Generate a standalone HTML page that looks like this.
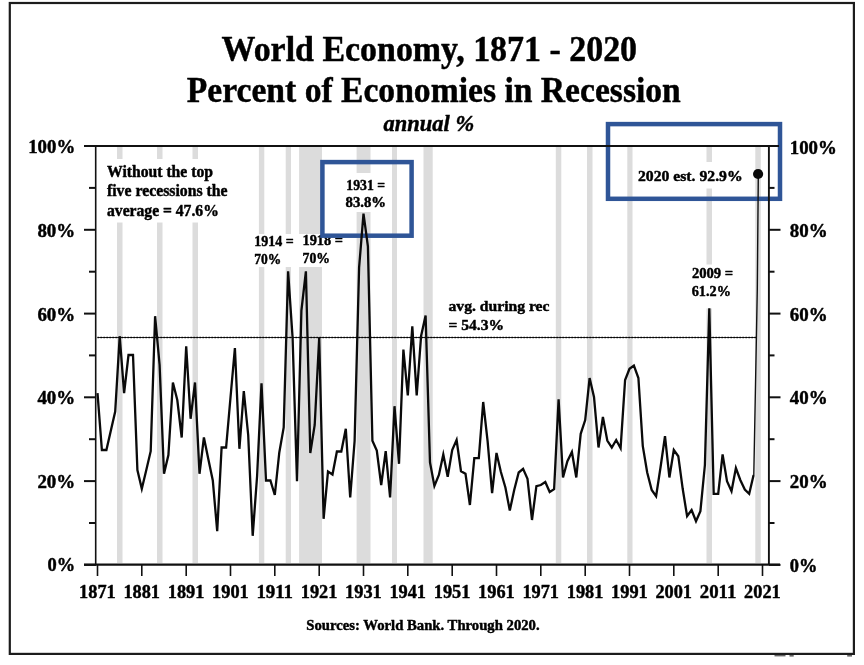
<!DOCTYPE html>
<html lang="en"><head><meta charset="utf-8"><title>World Economy, 1871 - 2020: Percent of Economies in Recession</title>
<style>
html,body{margin:0;padding:0;background:#fff}
svg{display:block}
text{font-family:"Liberation Serif","DejaVu Serif",serif;font-weight:bold;fill:#000;stroke:#000;stroke-width:.45px;stroke-linejoin:round}
</style></head><body>
<svg width="864" height="665" viewBox="0 0 864 665">
<rect width="864" height="665" fill="#fff"/>
<rect x="9.8" y="3" width="844.1" height="650.9" fill="none" stroke="#1c1c1c" stroke-width="2.2"/>
<g fill="#666"><rect x="774.5" y="655" width="11" height="1.4"/><rect x="789.5" y="655" width="4.2" height="1.6"/><rect x="847.2" y="655" width="4.8" height="1.6"/></g>
<g font-size="36" style="stroke-width:.6px">
<text x="221.6" y="61.3" textLength="415.5" lengthAdjust="spacingAndGlyphs">World Economy, 1871 - 2020</text>
<text x="186.8" y="101.9" textLength="494" lengthAdjust="spacingAndGlyphs">Percent of Economies in Recession</text>
</g>
<text x="383.6" y="131.4" font-size="23" font-style="italic" textLength="90.6" lengthAdjust="spacingAndGlyphs">annual %</text>
<g fill="#dcdcdc"><rect x="117" y="147" width="5.5" height="416"/><rect x="157" y="147" width="5.5" height="416"/><rect x="192.5" y="147" width="5.5" height="416"/><rect x="258.9" y="147" width="5.4" height="416"/><rect x="285.7" y="147" width="5.3" height="416"/><rect x="299.1" y="147" width="22.9" height="416"/><rect x="356.6" y="147" width="13.9" height="416"/><rect x="392" y="147" width="5.0" height="416"/><rect x="423.5" y="147" width="9.2" height="416"/><rect x="555.8" y="147" width="5.5" height="416"/><rect x="587" y="147" width="5.5" height="416"/><rect x="627.3" y="147" width="5.2" height="416"/><rect x="706.5" y="147" width="5.5" height="416"/><rect x="755.3" y="147" width="5.5" height="416"/></g>
<g font-size="15.2"><rect x="105" y="159" width="125" height="63.5" fill="#fff"/><g font-size="15.7"><text x="107" y="176.8" textLength="106" lengthAdjust="spacingAndGlyphs">Without the top</text><text x="107" y="196.4" textLength="120.5" lengthAdjust="spacingAndGlyphs">five recessions the</text><text x="107" y="215.5" textLength="111.8" lengthAdjust="spacingAndGlyphs">average = 47.6%</text></g><rect x="252" y="234" width="45" height="33" fill="#fff"/><text x="254.2" y="246.3" textLength="39.5" lengthAdjust="spacingAndGlyphs">1914 =</text><text x="254.2" y="263.8" textLength="27" lengthAdjust="spacingAndGlyphs">70%</text><rect x="299" y="234" width="47" height="33" fill="#fff"/><text x="302.5" y="245" textLength="40.5" lengthAdjust="spacingAndGlyphs">1918 =</text><text x="302.5" y="262.5" textLength="27.5" lengthAdjust="spacingAndGlyphs">70%</text><rect x="343" y="173" width="45" height="39" fill="#fff"/><text x="346.3" y="190" textLength="38.7" lengthAdjust="spacingAndGlyphs">1931 =</text><text x="345.5" y="207.1" textLength="40.6" lengthAdjust="spacingAndGlyphs">83.8%</text><rect x="635" y="162" width="110" height="26.5" fill="#fff"/><text x="638" y="181.1" textLength="104.6" lengthAdjust="spacingAndGlyphs">2020 est. 92.9%</text><rect x="690" y="264.5" width="45" height="44" fill="#fff"/><text x="691.9" y="277.7" textLength="41.3" lengthAdjust="spacingAndGlyphs">2009 =</text><text x="691.7" y="296" textLength="39.2" lengthAdjust="spacingAndGlyphs">61.2%</text><text x="448.5" y="310.5" textLength="101" lengthAdjust="spacingAndGlyphs">avg. during rec</text><text x="448.5" y="330" textLength="55.5" lengthAdjust="spacingAndGlyphs">= 54.3%</text></g>
<g fill="none" stroke="#2f5597" stroke-width="4.5"><rect x="322.4" y="162.1" width="89.2" height="73.6"/><rect x="608" y="124.1" width="172" height="74.7"/></g>
<line x1="97.5" y1="337.5" x2="757" y2="337.5" stroke="#222" stroke-width="1.1"/>
<line x1="97.5" y1="337.5" x2="757" y2="337.5" stroke="#000" stroke-width="1.5" stroke-dasharray="1.3 1.7"/>
<polyline points="97.5,393.2 101.9,450.0 106.4,450.0 110.8,430.8 115.2,411.5 119.7,336.2 124.1,393.2 128.5,355.0 133.0,355.0 137.4,470.0 141.8,488.8 146.3,470.0 150.7,451.2 155.1,316.2 159.6,365.0 164.0,473.8 168.4,455.0 172.9,382.5 177.3,400.0 181.7,437.5 186.2,346.2 190.6,418.8 195.0,382.5 199.5,473.8 203.9,437.5 208.3,459.0 212.8,480.5 217.2,531.2 221.6,447.5 226.1,447.5 230.5,397.5 234.9,348.0 239.4,448.8 243.8,391.2 248.2,435.0 252.7,535.8 257.1,476.0 261.5,383.2 266.0,480.5 270.4,480.5 274.8,495.0 279.3,452.5 283.7,427.5 288.1,271.3 292.6,338.0 297.0,481.2 301.4,310.5 305.9,271.3 310.3,453.0 314.7,425.0 319.2,337.8 323.6,518.8 328.0,471.5 332.5,474.5 336.9,451.5 341.3,451.5 345.8,428.8 350.2,497.5 354.6,441.0 359.1,267.5 363.5,213.6 367.9,246.3 372.4,440.7 376.8,450.5 381.2,485.0 385.7,451.2 390.1,497.5 394.5,406.2 399.0,463.8 403.4,349.5 407.8,395.5 412.3,326.2 416.7,395.5 421.1,336.0 425.6,315.5 430.0,462.5 434.4,486.0 438.9,475.0 443.3,454.5 447.7,476.8 452.2,450.0 456.6,440.0 461.0,471.2 465.5,473.8 469.9,505.0 474.3,458.2 478.8,458.2 483.2,402.0 487.6,441.2 492.1,493.2 496.5,453.0 500.9,472.0 505.4,487.5 509.8,510.5 514.2,490.0 518.7,472.5 523.1,468.8 527.5,478.8 532.0,520.0 536.4,486.2 540.8,485.0 545.3,482.0 549.7,492.0 554.1,489.2 558.6,399.2 563.0,477.5 567.4,461.2 571.9,452.0 576.3,477.5 580.7,433.8 585.2,420.0 589.6,378.0 594.0,397.0 598.5,447.5 602.9,417.0 607.3,440.5 611.8,447.5 616.2,440.0 620.6,448.2 625.1,380.0 629.5,368.8 633.9,365.5 638.4,378.0 642.8,446.2 647.2,472.5 651.7,490.0 656.1,496.2 660.5,467.5 665.0,436.2 669.4,477.5 673.8,450.0 678.3,456.2 682.7,488.8 687.1,516.2 691.6,510.0 696.0,521.2 700.4,511.2 704.9,465.0 709.3,308.4 713.7,493.8 718.2,493.8 722.6,454.5 727.0,481.2 731.5,491.2 735.9,468.0 740.3,480.0 744.8,489.5 749.2,493.8 753.6,475.0" fill="none" stroke="#0a0a0a" stroke-width="2.3" stroke-linejoin="miter" stroke-miterlimit="5"/>
<polyline points="753.8,475 755.6,380 757.3,289 758.3,176" fill="none" stroke="#111" stroke-width="1.4"/>
<circle cx="758.1" cy="174" r="5.1" fill="#0a0a0a"/>
<g stroke="#111" stroke-width="2" fill="none">
<line x1="84" y1="146.1" x2="779" y2="146.1"/>
<line x1="84" y1="564.55" x2="780" y2="564.55" stroke-width="2.3"/>
<line x1="95.7" y1="146" x2="95.7" y2="565" stroke-width="1.6"/>
<line x1="768.9" y1="146" x2="768.9" y2="565" stroke-width="1.9"/>
<line x1="84" y1="564.9" x2="96" y2="564.9"/><line x1="769" y1="564.9" x2="780.5" y2="564.9"/><line x1="89" y1="523.0" x2="96" y2="523.0"/><line x1="769" y1="523.0" x2="774.5" y2="523.0"/><line x1="84" y1="481.1" x2="96" y2="481.1"/><line x1="769" y1="481.1" x2="780.5" y2="481.1"/><line x1="89" y1="439.2" x2="96" y2="439.2"/><line x1="769" y1="439.2" x2="774.5" y2="439.2"/><line x1="84" y1="397.3" x2="96" y2="397.3"/><line x1="769" y1="397.3" x2="780.5" y2="397.3"/><line x1="89" y1="355.4" x2="96" y2="355.4"/><line x1="769" y1="355.4" x2="774.5" y2="355.4"/><line x1="84" y1="313.6" x2="96" y2="313.6"/><line x1="769" y1="313.6" x2="780.5" y2="313.6"/><line x1="89" y1="271.7" x2="96" y2="271.7"/><line x1="769" y1="271.7" x2="774.5" y2="271.7"/><line x1="84" y1="229.8" x2="96" y2="229.8"/><line x1="769" y1="229.8" x2="780.5" y2="229.8"/><line x1="89" y1="187.9" x2="96" y2="187.9"/><line x1="769" y1="187.9" x2="774.5" y2="187.9"/><line x1="84" y1="146.0" x2="96" y2="146.0"/>
<g stroke-width="1.6"><line x1="97.5" y1="565" x2="97.5" y2="576"/><line x1="141.8" y1="565" x2="141.8" y2="576"/><line x1="186.2" y1="565" x2="186.2" y2="576"/><line x1="230.5" y1="565" x2="230.5" y2="576"/><line x1="274.8" y1="565" x2="274.8" y2="576"/><line x1="319.2" y1="565" x2="319.2" y2="576"/><line x1="363.5" y1="565" x2="363.5" y2="576"/><line x1="407.8" y1="565" x2="407.8" y2="576"/><line x1="452.2" y1="565" x2="452.2" y2="576"/><line x1="496.5" y1="565" x2="496.5" y2="576"/><line x1="540.8" y1="565" x2="540.8" y2="576"/><line x1="585.2" y1="565" x2="585.2" y2="576"/><line x1="629.5" y1="565" x2="629.5" y2="576"/><line x1="673.8" y1="565" x2="673.8" y2="576"/><line x1="718.2" y1="565" x2="718.2" y2="576"/><line x1="762.5" y1="565" x2="762.5" y2="576"/></g>
</g>
<g font-size="19"><text x="28.2" y="153.3" textLength="47" lengthAdjust="spacingAndGlyphs">100%</text><text x="789.8" y="153.6" textLength="47" lengthAdjust="spacingAndGlyphs">100%</text><text x="37.4" y="236.9" textLength="37.8" lengthAdjust="spacingAndGlyphs">80%</text><text x="789.8" y="237.2" textLength="37.8" lengthAdjust="spacingAndGlyphs">80%</text><text x="37.4" y="320.5" textLength="37.8" lengthAdjust="spacingAndGlyphs">60%</text><text x="789.8" y="320.8" textLength="37.8" lengthAdjust="spacingAndGlyphs">60%</text><text x="37.4" y="404.1" textLength="37.8" lengthAdjust="spacingAndGlyphs">40%</text><text x="789.8" y="404.4" textLength="37.8" lengthAdjust="spacingAndGlyphs">40%</text><text x="37.4" y="487.7" textLength="37.8" lengthAdjust="spacingAndGlyphs">20%</text><text x="789.8" y="488.0" textLength="37.8" lengthAdjust="spacingAndGlyphs">20%</text><text x="47.6" y="571.3" textLength="27.6" lengthAdjust="spacingAndGlyphs">0%</text><text x="789.8" y="571.6" textLength="27.6" lengthAdjust="spacingAndGlyphs">0%</text><text x="79.1" y="598.4" textLength="36.6" lengthAdjust="spacingAndGlyphs">1871</text><text x="123.4" y="598.4" textLength="36.6" lengthAdjust="spacingAndGlyphs">1881</text><text x="167.8" y="598.4" textLength="36.6" lengthAdjust="spacingAndGlyphs">1891</text><text x="212.1" y="598.4" textLength="36.6" lengthAdjust="spacingAndGlyphs">1901</text><text x="256.4" y="598.4" textLength="36.6" lengthAdjust="spacingAndGlyphs">1911</text><text x="300.8" y="598.4" textLength="36.6" lengthAdjust="spacingAndGlyphs">1921</text><text x="345.1" y="598.4" textLength="36.6" lengthAdjust="spacingAndGlyphs">1931</text><text x="389.4" y="598.4" textLength="36.6" lengthAdjust="spacingAndGlyphs">1941</text><text x="433.8" y="598.4" textLength="36.6" lengthAdjust="spacingAndGlyphs">1951</text><text x="478.1" y="598.4" textLength="36.6" lengthAdjust="spacingAndGlyphs">1961</text><text x="522.4" y="598.4" textLength="36.6" lengthAdjust="spacingAndGlyphs">1971</text><text x="566.8" y="598.4" textLength="36.6" lengthAdjust="spacingAndGlyphs">1981</text><text x="611.1" y="598.4" textLength="36.6" lengthAdjust="spacingAndGlyphs">1991</text><text x="655.4" y="598.4" textLength="36.6" lengthAdjust="spacingAndGlyphs">2001</text><text x="699.8" y="598.4" textLength="36.6" lengthAdjust="spacingAndGlyphs">2011</text><text x="744.1" y="598.4" textLength="36.6" lengthAdjust="spacingAndGlyphs">2021</text></g>
<text x="306.3" y="629.9" font-size="15" textLength="233.3" lengthAdjust="spacingAndGlyphs">Sources: World Bank. Through 2020.</text>
</svg>
</body></html>
